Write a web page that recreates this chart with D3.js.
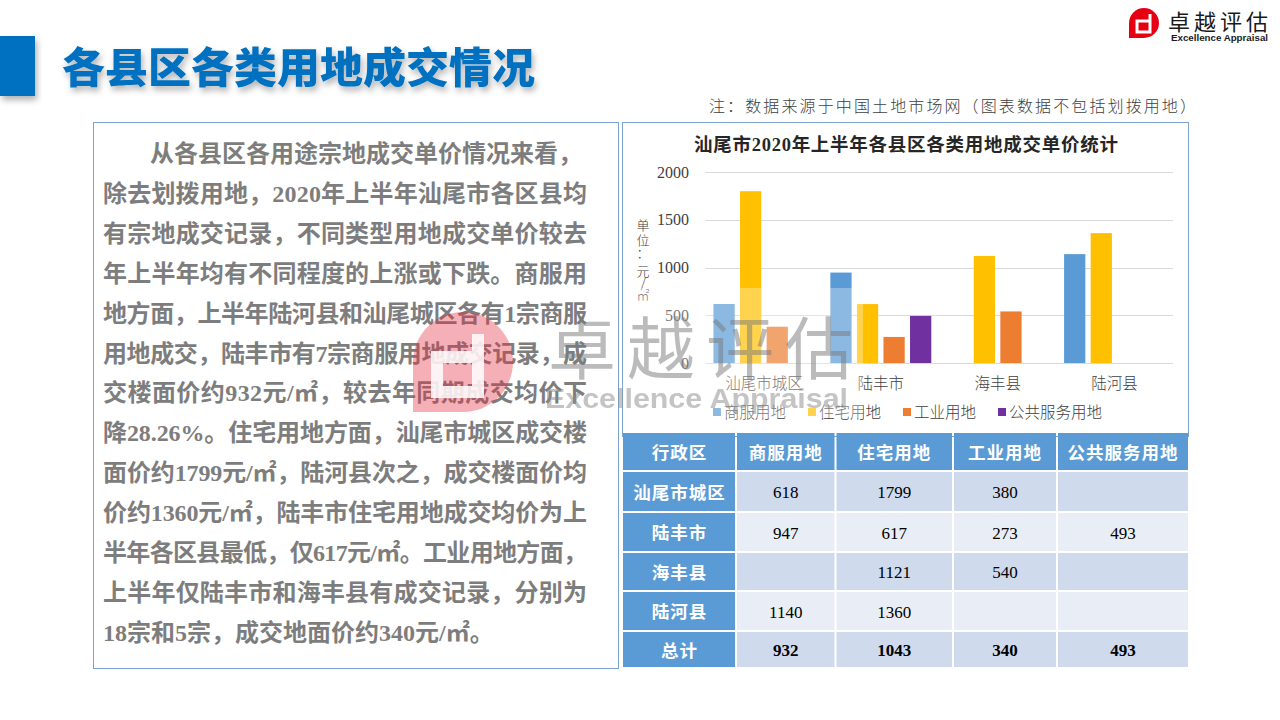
<!DOCTYPE html>
<html><head><meta charset="utf-8">
<script src="https://cdn.jsdelivr.net/npm/d3@7"></script>
<style>html,body{margin:0;padding:0;background:#fff;} svg{display:block;}</style>
</head><body>
<svg id="c" width="1280" height="720"></svg>
<script>
// ---------- data ----------
const categories = ["汕尾市城区", "陆丰市", "海丰县", "陆河县"];
const seriesNames = ["商服用地", "住宅用地", "工业用地", "公共服务用地"];
const commercial = [618, 947, null, 1140];
const residential = [1799, 617, 1121, 1360];
const industrial = [380, 273, 540, null];
const publicService = [null, 493, null, null];
const totals = [932, 1043, 340, 493];
const yTicks = [0, 500, 1000, 1500, 2000];
const seriesColors = ["#5B9BD5", "#FFC000", "#ED7D31", "#7030A0"];
const tableHeader = ["行政区", "商服用地", "住宅用地", "工业用地", "公共服务用地"];
const totalLabel = "总计";
const pageTitle = "各县区各类用地成交情况";
const chartTitle = "汕尾市2020年上半年各县区各类用地成交单价统计";
const noteText = "注：数据来源于中国土地市场网（图表数据不包括划拨用地）";
const yAxisLabel = ["单", "位", "：", "元", "/", "㎡"];
const paragraphLines = [
  "从各县区各用途宗地成交单价情况来看，",
  "除去划拨用地，2020年上半年汕尾市各区县均",
  "有宗地成交记录，不同类型用地成交单价较去",
  "年上半年均有不同程度的上涨或下跌。商服用",
  "地方面，上半年陆河县和汕尾城区各有1宗商服",
  "用地成交，陆丰市有7宗商服用地成交记录，成",
  "交楼面价约932元/㎡，较去年同期成交均价下",
  "降28.26%。住宅用地方面，汕尾市城区成交楼",
  "面价约1799元/㎡，陆河县次之，成交楼面价均",
  "价约1360元/㎡，陆丰市住宅用地成交均价为上",
  "半年各区县最低，仅617元/㎡。工业用地方面，",
  "上半年仅陆丰市和海丰县有成交记录，分别为",
  "18宗和5宗，成交地面价约340元/㎡。"
];
const seriesValues = [commercial, residential, industrial, publicService];

// ---------- setup ----------
const svg = d3.select("#c");
const CJK = "'Noto Sans CJK SC','Noto Sans',sans-serif";
const MIX = "'Liberation Serif','Noto Sans CJK SC',serif";

const defs = svg.append("defs");
const sh = defs.append("filter").attr("id", "shadow").attr("x", "-10%").attr("y", "-30%").attr("width", "130%").attr("height", "180%");
sh.append("feDropShadow").attr("dx", 2).attr("dy", 4).attr("stdDeviation", 3).attr("flood-color", "#000").attr("flood-opacity", 0.3);

// ---------- header ----------
svg.append("rect").attr("x", 0).attr("y", 36).attr("width", 35).attr("height", 60).attr("fill", "#0070C0").attr("filter", "url(#shadow)");
svg.append("text").attr("x", 62).attr("y", 83).attr("font-family", CJK).attr("font-weight", 900)
  .attr("font-size", 42).attr("fill", "#0070C0").attr("textLength", 473).attr("lengthAdjust", "spacingAndGlyphs")
  .attr("filter", "url(#shadow)").text(pageTitle);

// top-right logo
const lg = svg.append("g");
lg.append("path").attr("d", "M1129,38 L1129,23 A15,15 0 1 1 1144,38 Z").attr("fill", "#E60012");
lg.append("path").attr("d", "M1150,14 L1150,32 L1137,32 L1137,21 L1150,21").attr("fill", "none").attr("stroke", "#fff").attr("stroke-width", 3);
lg.append("text").attr("x", 1168).attr("y", 30).attr("font-family", CJK).attr("font-size", 22).attr("fill", "#1a1a1a")
  .attr("textLength", 100).attr("lengthAdjust", "spacing").text("卓越评估");
lg.append("text").attr("x", 1171).attr("y", 40.5).attr("font-family", "'Liberation Sans',Arial,sans-serif").attr("font-weight", "bold")
  .attr("font-size", 9).attr("fill", "#1a1a1a").attr("textLength", 97).attr("lengthAdjust", "spacingAndGlyphs").text("Excellence Appraisal");

// note
svg.append("text").attr("x", 709).attr("y", 112).attr("font-family", CJK).attr("font-weight", 300)
  .attr("font-size", 16).attr("fill", "#404040").attr("textLength", 487).attr("lengthAdjust", "spacing").text(noteText);

// ---------- left text box ----------
svg.append("rect").attr("x", 93.5).attr("y", 122.5).attr("width", 525).attr("height", 546)
  .attr("fill", "#fff").attr("stroke", "#7BA3CC").attr("stroke-width", 1);
svg.append("g").selectAll("text").data(paragraphLines).join("text")
  .attr("x", (d, i) => i === 0 ? 150 : 103)
  .attr("y", (d, i) => 162 + i * 39.9)
  .attr("font-family", MIX).attr("font-weight", "bold").attr("font-size", 24).attr("fill", "#7D7D7D")
  .each(function (d, i) {
    if (i > 0 && i < paragraphLines.length - 1) d3.select(this).attr("textLength", 484).attr("lengthAdjust", "spacing");
  })
  .text(d => d);

// ---------- chart ----------
svg.append("rect").attr("x", 622.5).attr("y", 122.5).attr("width", 566).attr("height", 314)
  .attr("fill", "#fff").attr("stroke", "#7BA3CC").attr("stroke-width", 1);

svg.append("text").attr("x", 694).attr("y", 151).attr("font-family", MIX)
  .attr("font-weight", "bold").attr("font-size", 18.5).attr("fill", "#262626")
  .attr("textLength", 424).attr("lengthAdjust", "spacing").text(chartTitle);

const x0 = d3.scaleBand().domain(categories).range([705.5, 1173]).paddingInner(0).paddingOuter(0);
const x1 = d3.scaleBand().domain(seriesNames).range([0, x0.bandwidth()]).paddingInner(0.2).paddingOuter(0.3);
const y = d3.scaleLinear().domain([0, 2000]).range([363, 172]);

const grid = svg.append("g");
grid.selectAll("line").data(yTicks).join("line")
  .attr("x1", 705.5).attr("x2", 1173).attr("y1", d => Math.round(y(d)) + 0.5).attr("y2", d => Math.round(y(d)) + 0.5)
  .attr("stroke", "#D9D9D9").attr("stroke-width", 1);

const yAxis = d3.axisLeft(y).tickValues(yTicks).tickFormat(d3.format("d")).tickSize(0).tickPadding(0);
const yg = svg.append("g").attr("transform", "translate(689,0)").call(yAxis);
yg.select(".domain").remove();
yg.selectAll("text").attr("font-family", MIX).attr("font-size", 16).attr("fill", "#404040");

svg.append("g").selectAll("text").data(yAxisLabel).join("text")
  .attr("x", 643).attr("y", (d, i) => [230, 245, 258, 276, 288, 300][i])
  .attr("text-anchor", "middle").attr("font-family", CJK).attr("font-weight", 300).attr("font-size", 13).attr("fill", "#404040")
  .text(d => d);

const barData = [];
categories.forEach((c, i) => seriesNames.forEach((s, j) => {
  const v = seriesValues[j][i];
  if (v !== null) barData.push({ c, s, v, j });
}));
svg.append("g").selectAll("rect").data(barData).join("rect")
  .attr("x", d => x0(d.c) + x1(d.s)).attr("width", x1.bandwidth())
  .attr("y", d => y(d.v)).attr("height", d => y(0) - y(d.v))
  .attr("fill", d => seriesColors[d.j]);

const xAxis = d3.axisBottom(x0).tickSize(0).tickPadding(0);
const xg = svg.append("g").attr("transform", "translate(0,375)").call(xAxis);
xg.select(".domain").remove();
xg.selectAll("text").attr("font-family", CJK).attr("font-weight", 300).attr("font-size", 15.5).attr("fill", "#404040").attr("dy", "0.9em");

// legend
const leg = svg.append("g");
const items = leg.selectAll("g").data(seriesNames).join("g");
items.append("rect").attr("width", 8).attr("height", 8).attr("y", 408).attr("fill", (d, i) => seriesColors[i]);
items.append("text").attr("x", 11).attr("y", 418).attr("font-family", CJK).attr("font-weight", 300)
  .attr("font-size", 15.5).attr("fill", "#404040").text(d => d);
let widths = [];
items.each(function () { widths.push(11 + d3.select(this).select("text").node().getComputedTextLength()); });
const gap = 22;
const totalW = d3.sum(widths) + gap * (widths.length - 1);
let cx = 907.5 - totalW / 2;
items.attr("transform", (d, i) => { const t = `translate(${cx},0)`; cx += widths[i] + gap; return t; });

// ---------- watermark ----------
const wm = svg.append("g");
wm.append("rect").attr("x", 623).attr("y", 288).attr("width", 240).attr("height", 130).attr("fill", "#fff").attr("opacity", 0.3);
wm.append("path").attr("d", "M413,412 L413,362 A50,50 0 1 1 463,412 Z").attr("fill", "#E3303E").attr("opacity", 0.38);
wm.append("path").attr("d", "M478,334 L478,392 L437,392 L437,357 L478,357").attr("fill", "none").attr("stroke", "#fff").attr("stroke-width", 12).attr("opacity", 0.85);
wm.append("text").attr("x", 548).attr("y", 374).attr("font-family", CJK).attr("font-size", 68).attr("fill", "#7a7a7a").attr("opacity", 0.5)
  .attr("textLength", 305).attr("lengthAdjust", "spacing").text("卓越评估");
wm.append("text").attr("x", 545).attr("y", 408).attr("font-family", "'Liberation Sans',Arial,sans-serif").attr("font-weight", "bold")
  .attr("font-size", 28).attr("fill", "#8a8a8a").attr("opacity", 0.5).attr("textLength", 303).attr("lengthAdjust", "spacingAndGlyphs")
  .text("Excellence Appraisal");

// ---------- table ----------
const colEdges = [623, 736, 835.5, 953, 1057, 1189];
const rowEdges = [433, 471, 512, 552, 591, 631, 668];
const rows = [tableHeader];
categories.forEach((c, i) => rows.push([c, ...seriesValues.map(s => s[i] === null ? "" : String(s[i]))]));
rows.push([totalLabel, ...totals.map(String)]);
const cells = [];
rows.forEach((r, ri) => r.forEach((v, ci) => cells.push({ v, ri, ci })));
const tg = svg.append("g");
tg.selectAll("rect").data(cells).join("rect")
  .attr("x", d => colEdges[d.ci] + (d.ci ? 1 : 0)).attr("y", d => rowEdges[d.ri] + (d.ri ? 1 : 0))
  .attr("width", d => colEdges[d.ci + 1] - colEdges[d.ci] - (d.ci ? 1 : 0) - 1)
  .attr("height", d => rowEdges[d.ri + 1] - rowEdges[d.ri] - (d.ri ? 1 : 0) - 1)
  .attr("fill", d => (d.ri === 0 || d.ci === 0) ? "#5B9BD5" : (d.ri % 2 === 1 ? "#CFDAEC" : "#E9EEF6"));
tg.selectAll("text").data(cells).join("text")
  .attr("x", d => (colEdges[d.ci] + colEdges[d.ci + 1]) / 2)
  .attr("y", d => (rowEdges[d.ri] + rowEdges[d.ri + 1]) / 2 + 1)
  .attr("dy", "0.35em").attr("text-anchor", "middle")
  .attr("font-family", d => (d.ri === 0 || d.ci === 0) ? CJK : MIX)
  .attr("font-weight", d => (d.ri === 0 || d.ci === 0 || d.ri === rows.length - 1) ? "bold" : "normal")
  .attr("font-size", d => (d.ri === 0 || d.ci === 0) ? 17.5 : 17)
  .attr("letter-spacing", d => (d.ri === 0 || d.ci === 0) ? 1 : 0)
  .attr("fill", d => (d.ri === 0 || d.ci === 0) ? "#fff" : "#000")
  .text(d => d.v);
</script>
</body></html>
